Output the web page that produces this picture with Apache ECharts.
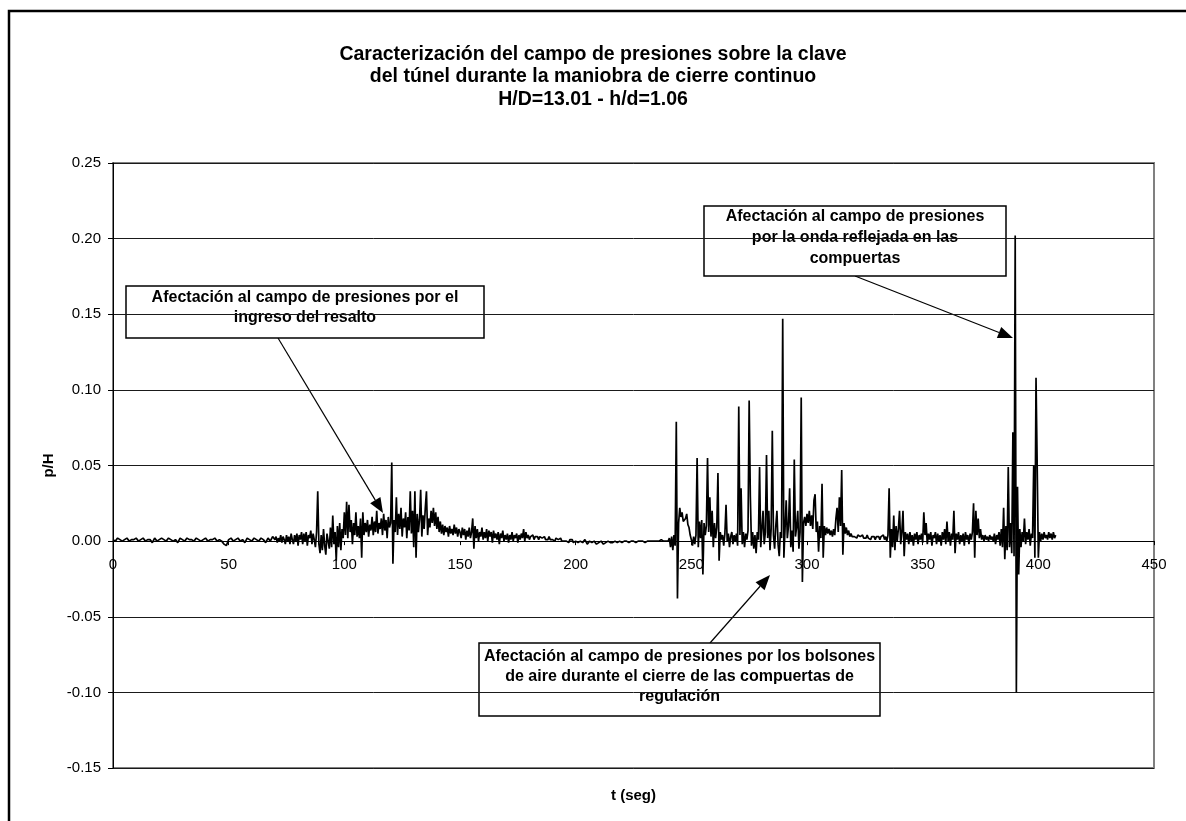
<!DOCTYPE html>
<html><head><meta charset="utf-8">
<script src="https://cdn.jsdelivr.net/npm/echarts@6/dist/echarts.min.js"></script>
<style>html,body{margin:0;padding:0;background:#fff}#c{width:1186px;height:821px}</style>
</head><body><div id="c"></div><script>
// p/H readings, segment by segment (start time s, sampling step s, values)
const quiet0to70 = [
0.001,0.000,0.002,0.001,0.000,0.001,0.002,0.000,0.001,0.001,
0.002,0.000,0.001,0.002,0.000,0.001,0.001,-0.001,0.002,0.000,
0.001,0.002,0.001,0.000,0.002,0.001,0.000,0.001,-0.001,0.002,
0.001,0.000,0.002,0.001,0.001,0.000,0.002,0.001,0.000,0.001,
0.002,0.000,0.001,0.001,0.002,0.000,0.001,0.000,-0.002,-0.003,
0.001,0.002,0.000,0.001,0.002,0.000,0.001,-0.001,0.002,0.001,
0.000,0.002,0.001,0.000,0.002,0.001,-0.001,0.002,0.000,0.003,
0.001];
const onset70to100 = [
0.003,-0.001,0.002,0.000,0.004,-0.001,0.003,0.001,-0.002,0.004,
0.000,0.003,-0.002,0.005,0.001,-0.002,0.004,0.000,0.005,-0.003,
0.004,0.001,0.006,-0.002,0.005,0.000,0.006,-0.003,0.004,0.002,
0.007,-0.002,0.005,0.001,-0.004,0.006,0.033,-0.002,-0.008,0.004,
-0.006,0.008,-0.003,-0.009,0.005,0.000,-0.005,0.009,-0.004,0.017,
-0.002,0.006,-0.013,0.010,-0.004,0.012,-0.006,0.008,0.002,0.019];
const jump100to150 = [
0.004,0.026,0.002,0.024,0.006,0.014,-0.002,0.012,0.004,0.019,
0.003,0.010,0.002,0.015,-0.011,0.019,0.004,0.012,0.006,0.014,
0.003,0.011,0.007,0.016,0.004,0.013,0.006,0.020,0.005,0.012,
0.008,0.015,0.004,0.018,0.007,0.014,0.002,0.016,0.009,0.012,
0.052,-0.015,0.014,0.006,0.029,0.004,0.018,0.008,0.022,0.003,
0.015,0.009,0.019,0.002,0.016,0.007,0.033,0.005,0.020,-0.004,
0.033,-0.011,0.018,0.006,0.014,0.034,0.003,0.017,0.008,0.022,
0.033,0.004,0.015,0.009,0.020,0.012,0.022,0.010,0.019,0.008,
0.016,0.006,0.013,0.005,0.011,0.004,0.010,0.006,0.009,0.003,
0.010,0.005,0.008,0.004,0.011,0.005,0.009,0.003,0.008,0.006];
const decay150to200 = [
0.002,0.009,0.004,0.008,0.001,0.007,0.003,0.009,0.002,0.006,
0.015,-0.005,0.010,0.002,0.008,0.000,0.006,0.003,0.009,0.001,
0.006,0.002,0.008,0.000,0.007,0.003,0.006,-0.001,0.007,0.002,
0.005,0.001,0.006,-0.002,0.005,0.002,0.007,0.000,0.004,0.001,
0.005,-0.001,0.004,0.001,0.006,0.000,0.004,0.002,0.005,-0.001,
0.004,0.001,0.005,0.002,0.008,0.000,0.006,0.002,0.004,0.001,
0.003,0.002,0.004,0.001,0.003,0.002,0.003,0.001,0.003,0.002,
0.002,0.001,0.003,0.001,0.002,0.001,0.003,0.001,0.002,0.001,
0.002,0.000,0.002,0.001,0.001,0.000,0.002,0.000,0.001,0.000,
0.001,0.000,0.001,-0.001,0.001,0.000,0.001,-0.001,0.000,0.000];
const flat200to240 = [
-0.001,0.000,-0.001,0.001,-0.002,0.000,-0.001,0.000,-0.002,-0.001,
0.000,-0.002,-0.001,0.000,-0.001,-0.001,0.000,-0.001,0.000,-0.001,
0.000,0.000,-0.001,0.000,0.000,-0.001,0.000,0.000,0.000,-0.001,
0.000,0.000,0.000,0.000,0.000,0.000,0.001,0.000,0.000,0.000];
const closing240to300 = [
0.002,-0.004,0.003,-0.006,0.004,-0.003,0.079,-0.038,0.012,0.022,
0.016,0.019,0.013,0.012,0.015,0.018,0.011,0.009,0.004,0.001,
-0.003,0.003,-0.002,0.004,0.055,-0.004,0.013,0.002,0.014,-0.022,
0.012,0.004,0.010,0.055,0.006,0.029,0.003,0.020,-0.004,0.012,
0.002,0.009,0.045,-0.013,0.006,0.001,0.004,-0.003,0.005,0.024,
0.000,0.005,-0.004,0.003,0.006,-0.002,0.004,0.000,0.005,-0.003,
0.089,0.004,0.035,-0.002,0.006,-0.004,0.005,0.001,0.007,0.093,
0.030,-0.003,0.006,-0.005,0.004,-0.008,0.006,0.001,0.049,-0.004,
0.008,0.020,-0.002,0.006,0.057,0.002,0.020,-0.006,0.008,0.073,
0.004,-0.005,0.010,0.020,-0.002,-0.010,0.006,0.002,0.147,-0.011,
0.008,0.027,0.002,0.010,0.035,-0.004,0.007,-0.007,0.054,0.003,
0.009,0.020,-0.005,0.006,0.095,-0.027,0.012,0.016,0.010,0.018];
const closing300to350 = [
0.012,0.020,0.010,0.017,0.008,0.027,0.031,0.006,0.013,-0.007,
0.010,0.002,0.038,-0.011,0.010,0.004,0.009,0.005,0.008,0.004,
0.007,0.003,0.008,0.004,0.015,0.022,0.006,0.029,0.010,0.047,
-0.009,0.012,0.005,0.009,0.004,0.007,0.003,0.005,0.003,0.004,
0.003,0.004,0.002,0.004,0.003,0.003,0.002,0.004,0.002,0.003,
0.002,0.004,0.002,0.003,0.001,0.003,0.002,0.003,0.001,0.003,
0.002,0.003,0.001,0.003,0.002,0.004,0.001,0.003,0.000,0.004,
0.035,-0.011,0.008,-0.004,0.017,-0.006,0.010,0.000,0.008,0.020,
-0.002,0.006,0.020,-0.010,0.006,0.001,0.005,-0.002,0.006,0.000,
0.004,-0.003,0.005,0.001,0.006,-0.002,0.004,0.001,0.005,-0.001];
const wave350to408 = [
0.019,0.004,0.012,-0.002,0.005,0.001,0.006,-0.003,0.004,0.002,
0.006,-0.002,0.005,0.000,0.004,-0.003,0.006,0.001,0.008,-0.002,
0.013,0.000,0.006,-0.003,0.005,0.001,0.020,-0.008,0.005,0.001,
0.006,-0.002,0.004,0.000,0.005,-0.003,0.006,0.001,0.004,-0.002,
0.005,0.001,0.006,0.025,-0.011,0.020,0.004,0.015,0.002,0.008,
0.001,0.004,0.000,0.004,0.001,0.003,0.000,0.004,0.001,0.003,
0.000,0.005,-0.002,0.004,0.001,0.006,-0.003,0.008,-0.004,0.022,
-0.012,0.010,-0.006,0.049,-0.004,0.012,-0.008,0.072,-0.010,0.202,
-0.100,0.036,-0.022,0.008,-0.004,0.006,0.000,0.015,-0.002,0.006,
0.001,0.008,-0.003,0.005,0.002,0.050,-0.011,0.108,0.051,-0.011,
0.006,0.000,0.005,0.001,0.006,0.002,0.004,0.001,0.006,0.002,
0.005,0.001,0.006,0.002,0.004];

const xTicks = [0, 450, 50];          // min, max, step of t axis
const yTicks = [-0.15, 0.25, 0.05];   // min, max, step of p/H axis

const titleLines = ['Caracterización del campo de presiones sobre la clave',
                    'del túnel durante la maniobra de cierre continuo',
                    'H/D=13.01 - h/d=1.06'];
const note1 = ['Afectación al campo de presiones por el', 'ingreso del resalto'];
const note2 = ['Afectación al campo de presiones', 'por la onda reflejada en las', 'compuertas'];
const note3 = ['Afectación al campo de presiones por los bolsones', 'de aire durante el cierre de las compuertas de', 'regulación'];

function seg(start, step, vals) {
  return vals.map((v, i) => [Math.round((start + i * step) * 100) / 100, v]);
}
const series = [].concat(
  seg(0, 1, quiet0to70),
  seg(70.5, 0.5, onset70to100),
  seg(100.5, 0.5, jump100to150),
  seg(150.5, 0.5, decay150to200),
  seg(201, 1, flat200to240),
  seg(240.5, 0.5, closing240to300),
  seg(300.5, 0.5, closing300to350),
  seg(350.5, 0.5, wave350to408)
);

const FONT = '"Liberation Sans", Arial, Helvetica, sans-serif';
const GRID = { left: 113, top: 163, right: 1154, bottom: 768 };
const zeroY = GRID.top + (GRID.bottom - GRID.top) * (yTicks[1] / (yTicks[1] - yTicks[0]));

function noteBox(x, y, w, h, lines, lh, cy) {
  return {
    type: 'group', z: 100, children: [
      { type: 'rect', shape: { x: x, y: y, width: w, height: h },
        style: { fill: '#fff', stroke: '#000', lineWidth: 1.5 } },
      { type: 'text', style: { text: lines.join('\n'), x: x + w / 2, y: cy,
        textAlign: 'center', textVerticalAlign: 'middle', fill: '#000',
        font: 'bold 16px ' + FONT, lineHeight: lh } }
    ]
  };
}
function arrow(x1, y1, x2, y2) {
  const dx = x2 - x1, dy = y2 - y1, L = Math.hypot(dx, dy);
  const ux = dx / L, uy = dy / L, nx = -uy, ny = ux;
  const hl = 15, hw = 6;
  const bx = x2 - ux * hl, by = y2 - uy * hl;
  return {
    type: 'group', z: 100, children: [
      { type: 'line', shape: { x1: x1, y1: y1, x2: bx, y2: by }, style: { stroke: '#000', lineWidth: 1.2 } },
      { type: 'polygon', shape: { points: [[x2, y2], [bx + nx * hw, by + ny * hw], [bx - nx * hw, by - ny * hw]] },
        style: { fill: '#000' } }
    ]
  };
}

const chart = echarts.init(document.getElementById('c'), null, { renderer: 'canvas' });
chart.setOption({
  animation: false,
  backgroundColor: '#fff',
  title: {
    text: titleLines.join('\n'), left: 'center', top: 38,
    textStyle: { fontFamily: FONT, fontSize: 19.5, fontWeight: 'bold', color: '#000', lineHeight: 22.5 }
  },
  grid: { left: GRID.left, right: 1186 - GRID.right, top: GRID.top, bottom: 821 - GRID.bottom,
    containLabel: false, outerBoundsMode: 'none',
    show: true, borderColor: '#808080', borderWidth: 2 },
  xAxis: {
    type: 'value', min: xTicks[0], max: xTicks[1], interval: xTicks[2],
    position: 'bottom', offset: -(GRID.bottom - zeroY),
    name: 't (seg)', nameLocation: 'middle', nameGap: 247,
    nameTextStyle: { fontFamily: FONT, fontSize: 15, fontWeight: 'bold', color: '#000' },
    axisLine: { onZero: false, lineStyle: { color: '#000', width: 1 } },
    axisTick: { show: true, length: 4, lineStyle: { color: '#000' } },
    axisLabel: { fontFamily: FONT, fontSize: 15, color: '#000', margin: 16 },
    splitLine: { show: false }
  },
  yAxis: {
    type: 'value', min: yTicks[0], max: yTicks[1], interval: yTicks[2],
    name: 'p/H', nameLocation: 'middle', nameGap: 55,
    nameTextStyle: { fontFamily: FONT, fontSize: 15, fontWeight: 'bold', color: '#000' },
    axisLine: { show: true, onZero: false, lineStyle: { color: '#000', width: 1 } },
    axisTick: { show: true, length: 5, lineStyle: { color: '#000' } },
    axisLabel: { fontFamily: FONT, fontSize: 15, color: '#000', margin: 12,
      formatter: v => v.toFixed(2) },
    splitLine: { show: true, lineStyle: { color: '#1a1a1a', width: 1 } }
  },
  series: [{
    type: 'line', data: series, showSymbol: false, sampling: null,
    lineStyle: { color: '#000', width: 1.7 }, itemStyle: { color: '#000' }
  }],
  graphic: [
    { type: 'rect', z: 0, silent: true, shape: { x: 9, y: 11, width: 1400, height: 1000 },
      style: { fill: 'none', stroke: '#000', lineWidth: 2.5 } },
    arrow(278, 338, 383, 513),
    arrow(855, 276, 1013, 338),
    arrow(710, 643, 770, 575),
    noteBox(126, 286, 358, 52, note1, 20, 308),
    noteBox(704, 206, 302, 70, note2, 21, 238),
    noteBox(479, 643, 401, 73, note3, 20, 677)
  ]
});
</script></body></html>
